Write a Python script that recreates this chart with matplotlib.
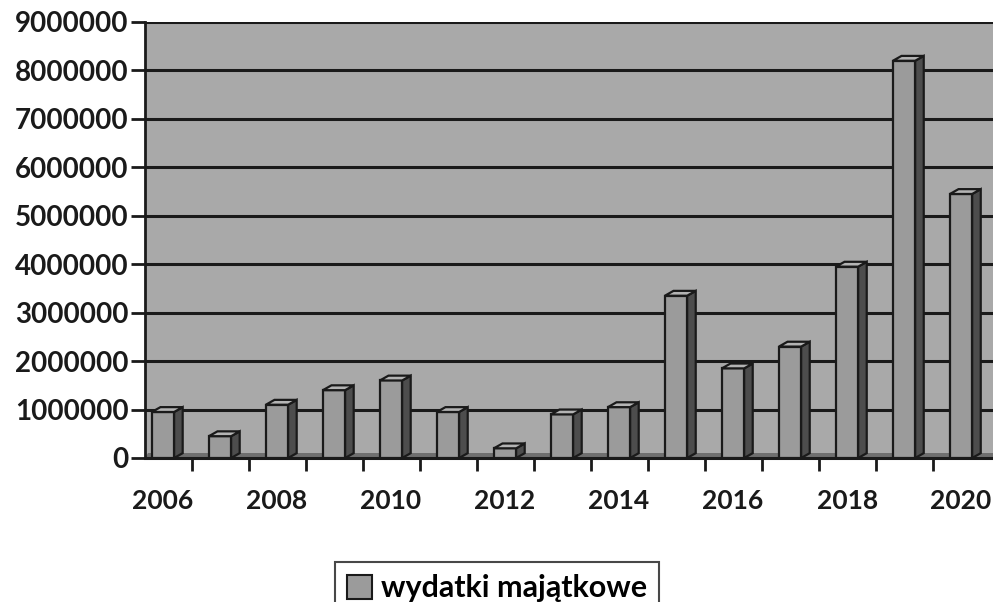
import matplotlib.pyplot as plt
from matplotlib.patches import Polygon, Patch
import numpy as np

# dane
years = [2006, 2007, 2008, 2009, 2010, 2011, 2012, 2013, 2014, 2015, 2016, 2017, 2018, 2019, 2020]
wydatki = [950000, 450000, 1100000, 1400000, 1600000, 950000, 200000, 900000, 1050000,
           3350000, 1850000, 2300000, 3950000, 8200000, 5450000]
year_labels = ['2006', '2008', '2010', '2012', '2014', '2016', '2018', '2020']
y_ticks = [0, 1000000, 2000000, 3000000, 4000000, 5000000, 6000000, 7000000, 8000000, 9000000]
series_name = 'wydatki majątkowe'

plt.rcParams['font.family'] = ['Lato', 'DejaVu Sans']
plt.rcParams['font.weight'] = 'bold'

fig = plt.figure(figsize=(9.93, 6.02), dpi=100)
ax = fig.add_axes([145 / 993, (602 - 458) / 602, (993 - 145) / 993, (458 - 22) / 602])

x = np.arange(len(years))
w = 0.39
dx = 0.15
dy = 100000

wall = '#a9a9a9'
front = '#9b9b9b'
side = '#4d4d4d'
top = '#b4b4b4'
edge = '#1a1a1a'

ax.set_facecolor(wall)
ax.set_xlim(-0.316, 14.56)
ax.set_ylim(0, 9000000)

# podloga
xl, xr = ax.get_xlim()
ax.add_patch(Polygon([(xl, 0), (xr, 0), (xr, dy), (xl + dx * 0.3, dy)],
                     closed=True, facecolor='#6f6f6f', edgecolor='none', zorder=1))

ax.set_yticks(y_ticks)
ax.yaxis.grid(True, color=edge, linewidth=2.2, zorder=0)
ax.set_axisbelow(True)

ax.bar(x, wydatki, width=w, color=front, edgecolor=edge, linewidth=1.6, zorder=3)
for xi, v in zip(x, wydatki):
    r = xi + w / 2
    l = xi - w / 2
    ax.add_patch(Polygon([(r, 0), (r + dx, dy), (r + dx, v + dy), (r, v)], closed=True,
                         facecolor=side, edgecolor=edge, linewidth=1.6, zorder=3))
    ax.add_patch(Polygon([(l, v), (r, v), (r + dx, v + dy), (l + dx, v + dy)], closed=True,
                         facecolor=top, edgecolor=edge, linewidth=1.6, zorder=3))

ax.set_yticklabels([str(t) for t in y_ticks], fontsize=20, fontweight='bold', color='#1a1a1a')
ax.tick_params(axis='y', length=10, width=2, color=edge, pad=2)

ax.set_xticks(x[:-1] + 0.5)
ax.set_xticklabels([])
ax.set_xticks(x[::2], minor=True)
ax.set_xticklabels(year_labels, minor=True, fontsize=19, fontweight='bold', color='#1a1a1a')
ax.tick_params(axis='x', which='major', length=9, width=2, color=edge)
ax.tick_params(axis='x', which='minor', length=0, pad=22)

for s in ['top', 'right']:
    ax.spines[s].set_visible(False)
ax.spines['left'].set_linewidth(2)
ax.spines['bottom'].set_linewidth(2.2)
ax.spines['left'].set_color(edge)
ax.spines['bottom'].set_color(edge)

leg = fig.legend(handles=[Patch(facecolor=front, edgecolor=edge, linewidth=1.5, label=series_name)],
                 loc='upper center', bbox_to_anchor=(497 / 993, (602 - 547) / 602),
                 prop={'family': 'Lato', 'weight': 'bold', 'size': 22}, frameon=True,
                 fancybox=False, handlelength=0.8, handleheight=0.8, handletextpad=0.3,
                 borderpad=0.4)
leg.get_frame().set_edgecolor(edge)
leg.get_frame().set_linewidth(1.5)

fig.savefig('out.png', dpi=100, facecolor='white')
